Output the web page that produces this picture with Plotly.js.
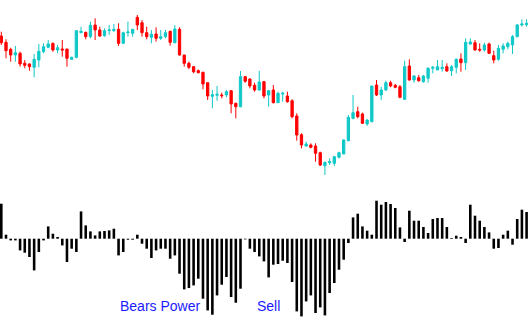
<!DOCTYPE html>
<html>
<head>
<meta charset="utf-8">
<script src="https://cdn.plot.ly/plotly-3.0.1.min.js"></script>
<style>html,body{margin:0;padding:0;background:#fff;}#chart{width:528px;height:332px;}</style>
</head>
<body>
<div id="chart"></div>
<script>
// Candle data (price units)
const openP = [164,157.7,150.7,145,146.7,136.7,136,132.7,140,148.3,152.7,156.7,150,151,151,140.7,142.7,167.3,167.7,163.3,175,170,164.3,169.3,169.3,170.7,156.7,167.3,166.7,
182.7,177.3,167.3,162.7,166,161.7,163.3,168.7,157.3,170.7,145,136.7,133.3,129.3,127.7,117.3,103.7,104.7,105,105,109.3,96.7,93.3,123.3,121,114.7,110,118.3,
105,110,97.3,106,104,99.3,84,65.3,54,55,54,47.3,34.3,37.3,36.7,42.7,46,59.3,81.7,88.3,86,76,78.3,115,105,110,117.3,
114.7,113.3,100.7,134,120,122.3,118.3,121.7,131.7,130,131.3,133.3,129.3,132.7,141,137.3,156,157.3,150.7,150,156,144.3,140.7,150.7,153.3,155,163.3,175,175.3];
const highP = [168.3,160.7,152.3,154,148.3,140,136.7,146,156,156.7,160,157.3,155,160,151,143.3,170,173.3,168.3,178.3,181.7,173.3,171.7,175,176,176.7,168.3,178.3,170.7,
185,180,173.3,170,172.7,170,170,169.3,175,172.7,145,138.3,134,130.7,128.3,117.3,110,114,107.3,110,110,97.3,129,124,121.7,117.3,129,119,
110,115,108.3,108.3,108.3,100.7,86.7,66.7,58.3,56.7,56.7,48.3,38.3,41.7,44,48.3,60.7,85,105,93.3,87.3,80.7,114,120,113.3,119.3,119.3,
116,115,139.3,140.7,125,125,125,132.7,134,140,140,136.7,135,141.7,146.7,161.7,161.7,160,156.7,157.3,157.3,149.3,155,156.7,158.3,165,176,180.7,180.7];
const lowP = [155,141.7,138.3,138.3,133.3,131.7,129.3,122.7,132.7,146.7,151.7,148.3,146.7,143.3,133.3,140,141.7,166.7,160.7,161.7,160,163.3,163.3,165,168.3,154,156,163.3,163.3,
170,163.3,160.7,156.7,158.3,160,161.7,154.3,156.7,144.3,133.3,130.7,126.7,126.7,110.7,100,91.7,99.3,101.7,102.7,86.7,81.7,92.7,117.3,111.7,108.3,109.3,101.7,
93.3,96.7,97.3,98.3,97.3,81.7,59.3,51.7,53.3,51.7,38.3,34,25,35,34,41.7,46,58.7,80.7,81.7,76,74.3,77.7,104,100,109.3,112.7,
111.7,101.7,100,119.3,117.3,118.3,117.3,117.3,126.7,130,128.3,128.3,124,126.7,128.3,130,155,149.3,148.3,148.3,146,136.7,139.3,146.7,150.7,146,162.7,173.3,173.3];
const closeP = [157.3,149.3,145,147.3,136,134.7,133.3,140.7,148.7,153.3,156,150,152.3,150,141.7,142.7,169.3,168.7,163.3,174.7,170,164,169.3,170,170.7,156.7,167.3,168,170.7,
175,167.3,163.3,165.7,161.7,163.3,167.3,157.7,171,145,136.7,132.7,128.3,127.3,116,104,105.3,105.7,104.3,108.3,96,93.3,123.3,118.7,114,110,118,104,
109.3,97.3,106.7,106.7,98.3,83.3,65,55,56,52.7,46.7,35,37.7,38.3,43.3,47.3,60,82.7,87.3,83.3,76.7,80,114,105,110,117.3,114,
112.7,102.7,133.3,120,124,119.3,124,131.7,132.7,133.3,132.7,129,133.3,140.7,137.3,157.7,158,150,150,155,146.7,140,151.7,154,156.7,163.3,175,176,176.7];
// Bears Power histogram values
const bearsPower = [35,4,-1.7,-1.7,-11.7,-14,-18.3,-31.7,-13.3,-1.7,12.3,5,1.7,-6.7,-23.3,-10,-13.3,27.3,13.3,7.3,3.3,7.3,7.7,8.3,10,-16.7,-13.3,-1,-1,
4,-5,-10,-19.3,-11.7,-10,-10,-20,-16.7,-35,-50.7,-49.3,-46.7,-40,-60,-71.7,-76,-56.7,-46,-38.3,-58.3,-64,-50,-0.7,-10,-13.3,-17.7,-22.7,
-38.7,-26,-25.3,-22,-24.3,-43.3,-72.7,-77.7,-62.7,-56.7,-74.3,-68.7,-76.7,-54.3,-44.3,-31,-21,-4.3,21.3,25,12.3,8,4,38,34,36.7,34.7,30.7,
11.3,-3.3,28,18,18,11.7,5.7,19.7,20.7,20.7,11.7,0.7,3,1.7,-4.3,34,23,18,11.7,6.3,-10,-9.3,4,8,-6,19.7,29,26.7];
const labels = ["Bears Power", "Sell"];

const idx = openP.map((_, i) => i);

const candles = {
  type: 'candlestick', x: idx, open: openP, high: highP, low: lowP, close: closeP,
  xaxis: 'x', yaxis: 'y',
  increasing: {line: {color: '#10c8c8', width: 1}, fillcolor: '#10c8c8'},
  decreasing: {line: {color: '#ff0000', width: 1}, fillcolor: '#ff0000'},
  whiskerwidth: 0, hoverinfo: 'skip', showlegend: false
};
const bars = {
  type: 'bar', x: idx, y: bearsPower, xaxis: 'x', yaxis: 'y2',
  marker: {color: '#000000', line: {width: 0}}, width: 0.55,
  hoverinfo: 'skip', showlegend: false
};

const axOff = {visible: false, showgrid: false, zeroline: false, showticklabels: false, fixedrange: true};
const layout = {
  width: 528, height: 332,
  margin: {l: 0, r: 0, t: 0, b: 0, pad: 0},
  paper_bgcolor: '#ffffff', plot_bgcolor: '#ffffff',
  boxgap: 0.3,
  xaxis: Object.assign({}, axOff, {range: [-0.28, 112.3], rangeslider: {visible: false}, anchor: 'y2'}),
  yaxis: Object.assign({}, axOff, {domain: [0.44277, 0.98494], range: [15, 195]}),
  yaxis2: Object.assign({}, axOff, {domain: [0.036145, 0.403614], range: [-81.3, 40.7]}),
  annotations: [
    {text: labels[0], xref: 'paper', yref: 'paper', x: 117.5/528, y: 1 - 305.5/332,
     xanchor: 'left', yanchor: 'middle', showarrow: false,
     font: {family: 'Liberation Sans, Arial, sans-serif', size: 14, color: '#1a1aff'}},
    {text: labels[1], xref: 'paper', yref: 'paper', x: 255/528, y: 1 - 305.5/332,
     xanchor: 'left', yanchor: 'middle', showarrow: false,
     font: {family: 'Liberation Sans, Arial, sans-serif', size: 14, color: '#1a1aff'}}
  ],
  showlegend: false
};
Plotly.newPlot('chart', [candles, bars], layout, {staticPlot: true, displayModeBar: false});
</script>
</body>
</html>
